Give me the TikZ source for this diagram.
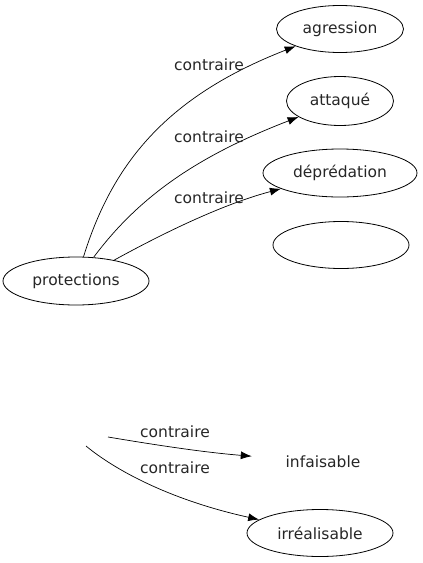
\documentclass[tikz,border=0pt]{standalone}
\usepackage{fontspec}
\setmainfont{DejaVu Sans}
\usetikzlibrary{arrows.meta,shapes.geometric}

\begin{document}
\begin{tikzpicture}[x=1pt,y=-1pt,
  oval/.style={draw,ellipse,line width=0.8pt,inner sep=0pt},
  mot/.style={font=\fontsize{15.5}{18}\selectfont,text=black!85},
  fleche/.style={line width=0.7pt,-{Latex[length=11pt,width=8pt]}}]
\useasboundingbox (0,0) rectangle (423,563);

\node[oval,mot,minimum width=127pt,minimum height=47pt] (agr) at (340,29) {agression};
\node[oval,mot,minimum width=107pt,minimum height=49pt] (att) at (340,101) {attaqué};
\node[oval,mot,minimum width=154pt,minimum height=48pt] (dep) at (340,173) {déprédation};
\node[oval,minimum width=136pt,minimum height=47pt] (vide) at (341,245) {};
\node[oval,mot,minimum width=146pt,minimum height=48pt] (prot) at (76,281) {protections};

\node[oval,draw=none,mot,minimum width=146pt,minimum height=47pt] (inf) at (323,462) {infaisable};
\node[oval,mot,minimum width=146pt,minimum height=47pt] (irr) at (320,533) {irréalisable};

\coordinate (d1) at (108,437);
\coordinate (d2) at (86,446);

% liens
\draw[fleche] (prot) .. controls (112,165) and (165,97) .. (agr);
\draw[fleche] (prot) .. controls (140,195) and (200,155) .. (att);
\draw[fleche] (prot) .. controls (160,235) and (220,205) .. (dep);
\draw[fleche] (d1) .. controls (150,444) and (200,452) .. (inf);
\draw[fleche] (d2) .. controls (115,470) and (170,500) .. (irr);

\node[mot] (l1) at (209,65) {contraire};
\node[mot] (l2) at (209,137) {contraire};
\node[mot] (l3) at (209,198) {contraire};
\node[mot] (l4) at (175,432) {contraire};
\node[mot] (l5) at (175,468) {contraire};
\end{tikzpicture}
\end{document}
